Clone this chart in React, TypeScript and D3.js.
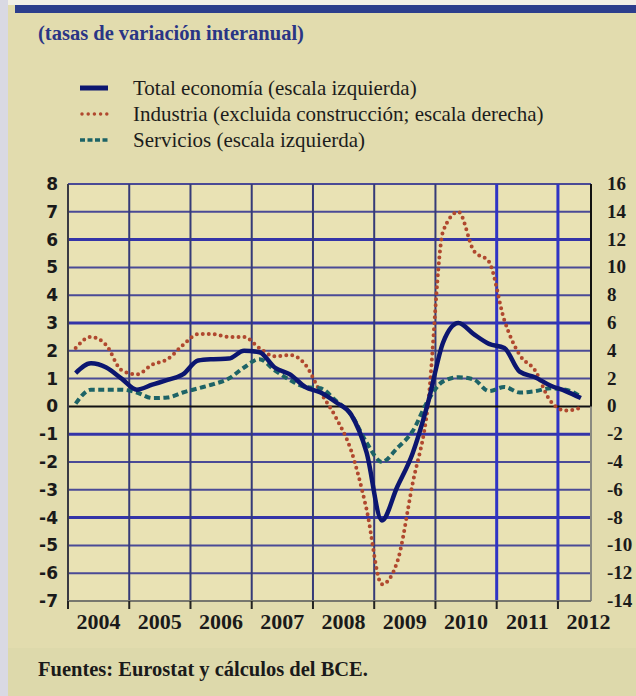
import React from "react";
import * as d3 from "d3";

const periods = [
  "2004Q1","2004Q2","2004Q3","2004Q4","2005Q1","2005Q2","2005Q3","2005Q4",
  "2006Q1","2006Q2","2006Q3","2006Q4","2007Q1","2007Q2","2007Q3","2007Q4",
  "2008Q1","2008Q2","2008Q3","2008Q4","2009Q1","2009Q2","2009Q3","2009Q4",
  "2010Q1","2010Q2","2010Q3","2010Q4","2011Q1","2011Q2","2011Q3","2011Q4",
  "2012Q1","2012Q2",
];
// Total economy, left scale
const totalEconomy = [1.2,1.55,1.4,1.0,0.6,0.78,0.95,1.15,1.65,1.7,1.72,2.0,1.95,1.4,1.15,0.7,0.5,0.15,-0.3,-1.65,-4.1,-2.9,-1.7,0.1,2.3,3.0,2.6,2.25,2.1,1.25,1.05,0.75,0.55,0.3];
// Industry excl. construction, right scale
const industry = [4.2,5.0,4.4,2.6,2.3,3.0,3.4,4.4,5.2,5.2,5.0,5.0,4.2,3.6,3.7,3.0,1.0,-0.8,-3.2,-7.4,-12.8,-11.2,-5.6,0.0,12.6,14.0,11.2,10.4,6.2,3.7,2.6,0.4,-0.3,-0.1];
// Services, left scale
const services = [0.1,0.6,0.6,0.6,0.5,0.3,0.32,0.5,0.65,0.8,1.0,1.4,1.7,1.3,0.95,0.7,0.65,0.2,-0.3,-1.3,-2.0,-1.5,-0.9,0.2,0.9,1.05,0.97,0.55,0.7,0.5,0.55,0.65,0.6,0.35];

const leftTicks = [8,7,6,5,4,3,2,1,0,-1,-2,-3,-4,-5,-6,-7];
const rightTicks = [16,14,12,10,8,6,4,2,0,-2,-4,-6,-8,-10,-12,-14];
const years = [2004,2005,2006,2007,2008,2009,2010,2011,2012];
const thickGrid = [6,3,-1,-4];

const titleText = "(tasas de variación interanual)";
const legendItems = [
  "Total economía (escala izquierda)",
  "Industria (excluida construcción; escala derecha)",
  "Servicios (escala izquierda)",
];
const sourceText = "Fuentes: Eurostat y cálculos del BCE.";

const toYear = (p: string) => +p.slice(0, 4) + (+p.slice(5) - 0.5) / 4;

export default function App() {
  const W = 636, H = 696;
  const x0 = 68, x1 = 591, yTop = 184, yBot = 601;
  const x = d3.scaleLinear().domain([2004, 2012.54]).range([x0, x1]);
  const yL = d3.scaleLinear().domain([-7, 8]).range([yBot, yTop]);
  const yR = d3.scaleLinear().domain([-14, 16]).range([yBot, yTop]);

  const lineL = d3.line<number>().x((_, i) => x(toYear(periods[i]))).y((d) => yL(d)).curve(d3.curveMonotoneX);
  const lineR = d3.line<number>().x((_, i) => x(toYear(periods[i]))).y((d) => yR(d)).curve(d3.curveMonotoneX);

  const serif = "'Liberation Serif', 'DejaVu Serif', serif";
  const sans = "'DejaVu Sans', sans-serif";
  const navy = "#0c1670";
  const red = "#b0482e";
  const teal = "#1d6366";

  return (
    <svg width={W} height={H} style={{ position: "absolute", left: 0, top: 0 }}>
      <rect x={0} y={0} width={W} height={H} fill="#e2dcae" />
      <rect x={0} y={0} width={8} height={H} fill="#d9d9e3" />
      <rect x={8} y={0} width={W} height={5} fill="#f2f0e6" />
      <rect x={15} y={5} width={W - 15} height={8} fill="#2c3e8c" />
      <rect x={8} y={648} width={W - 8} height={48} fill="#ddd9ab" />

      <text x={38} y={40} fontFamily={serif} fontWeight="bold" fontSize={20.5} fill="#2a3585">{titleText}</text>

      {/* legend */}
      <line x1={80} x2={108} y1={88} y2={88} stroke={navy} strokeWidth={5} />
      <line x1={82} x2={108} y1={114} y2={114} stroke={red} strokeWidth={3.5} strokeDasharray="0 6.2" strokeLinecap="round" />
      <line x1={80} x2={108} y1={140} y2={140} stroke={teal} strokeWidth={3.5} strokeDasharray="5 2.5" />
      {legendItems.map((t, i) => (
        <text key={t} x={133} y={95 + i * 26} fontFamily={serif} fontSize={21} fill="#1c1c1c">{t}</text>
      ))}

      {/* plot background */}
      <rect x={x0} y={yTop} width={x1 - x0} height={yBot - yTop} fill="#e9e2b4" />

      {/* horizontal grid */}
      {leftTicks.filter((v) => v !== 0 && v !== -7).map((v) => (
        <line key={"h" + v} x1={x0} x2={x1} y1={yL(v)} y2={yL(v)}
          stroke={thickGrid.includes(v) ? "#3434a8" : "#4a4a96"} strokeWidth={thickGrid.includes(v) ? 3 : 2} />
      ))}
      {/* vertical grid */}
      {years.slice(1).map((yr) => (
        <line key={"v" + yr} x1={x(yr)} x2={x(yr)} y1={yTop} y2={yBot}
          stroke={yr >= 2011 ? "#2f34c4" : "#353a78"} strokeWidth={yr >= 2011 ? 3 : 2} />
      ))}
      {/* axes */}
      <line x1={x0} x2={x1} y1={yL(0)} y2={yL(0)} stroke="#111" strokeWidth={2} />
      <line x1={x0} x2={x0} y1={yTop} y2={yBot} stroke="#3a3a44" strokeWidth={2} />
      <line x1={x1} x2={x1} y1={yTop} y2={yBot} stroke="#8a8a80" strokeWidth={2} />
      <line x1={x1} x2={x1} y1={yTop} y2={yL(0)} stroke="#111" strokeWidth={2} />
      <line x1={x0} x2={x1} y1={yBot} y2={yBot} stroke="#77776e" strokeWidth={2} />
      {years.map((yr) => (
        <line key={"t" + yr} x1={x(yr)} x2={x(yr)} y1={yBot} y2={yBot + 8} stroke="#222" strokeWidth={2} />
      ))}

      {/* series */}
      <path d={lineR(industry) ?? ""} fill="none" stroke={red} strokeWidth={4} strokeDasharray="0 6" strokeLinecap="round" />
      <path d={lineL(services) ?? ""} fill="none" stroke={teal} strokeWidth={4} strokeDasharray="6 3.5" />
      <path d={lineL(totalEconomy) ?? ""} fill="none" stroke={navy} strokeWidth={4.5} strokeLinejoin="round" />

      {/* tick labels */}
      {leftTicks.map((v) => (
        <text key={"l" + v} x={58} y={yL(v) + 6} textAnchor="end" fontFamily={sans} fontWeight="bold" fontSize={17} fill="#1a1a1a">{v}</text>
      ))}
      {rightTicks.map((v) => (
        <text key={"r" + v} x={607} y={yR(v) + 6} textAnchor="start" fontFamily={serif} fontWeight="bold" fontSize={19} fill="#1a1a1a">{v}</text>
      ))}
      {years.map((yr) => (
        <text key={"y" + yr} x={x(yr + 0.5)} y={629} textAnchor="middle" fontFamily={serif} fontWeight="bold" fontSize={22} fill="#1a1a1a">{yr}</text>
      ))}

      <text x={38} y={676} fontFamily={serif} fontWeight="bold" fontSize={20.5} fill="#1a1a1a">{sourceText}</text>
    </svg>
  );
}
